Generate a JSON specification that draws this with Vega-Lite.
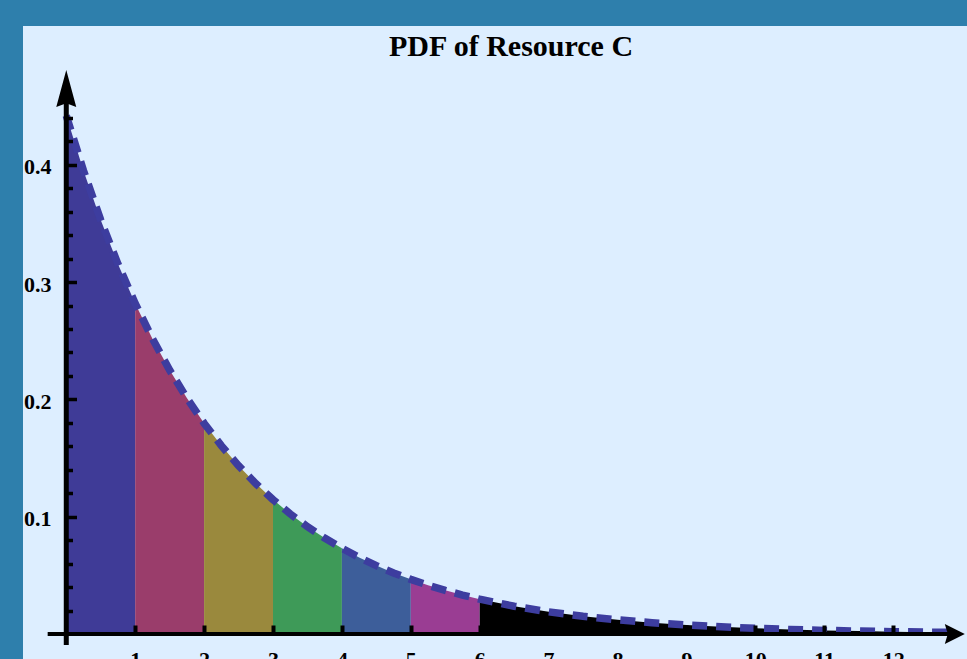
{
  "$schema": "https://vega.github.io/schema/vega-lite/v6.json",
  "autosize": {"type": "none"},
  "width": 944,
  "height": 633,
  "padding": {"left": 23, "top": 26, "right": 0, "bottom": 0},
  "background": "#2e7fac",
  "config": {"view": {"stroke": null, "fill": "#ddeeff"}},
  "title": {"text": "PDF of Resource C", "font": "Liberation Serif", "fontSize": 30, "fontWeight": "bold", "color": "black", "anchor": "middle", "offset": -60, "baseline": "alphabetic", "dx": 16, "frame": "group"},
  "datasets": {
    "pdf": [
      {"seg": "a", "x": 0, "y": 0.442}, {"seg": "a", "x": 0.25, "y": 0.395}, {"seg": "a", "x": 0.5, "y": 0.3529}, {"seg": "a", "x": 0.75, "y": 0.3154}, {"seg": "a", "x": 1, "y": 0.2818},
      {"seg": "b", "x": 1, "y": 0.2818}, {"seg": "b", "x": 1.25, "y": 0.2518}, {"seg": "b", "x": 1.5, "y": 0.225}, {"seg": "b", "x": 1.75, "y": 0.2011}, {"seg": "b", "x": 2, "y": 0.1797},
      {"seg": "c", "x": 2, "y": 0.1797}, {"seg": "c", "x": 2.25, "y": 0.1606}, {"seg": "c", "x": 2.5, "y": 0.1435}, {"seg": "c", "x": 2.75, "y": 0.1282}, {"seg": "c", "x": 3, "y": 0.1146},
      {"seg": "d", "x": 3, "y": 0.1146}, {"seg": "d", "x": 3.25, "y": 0.1024}, {"seg": "d", "x": 3.5, "y": 0.0915}, {"seg": "d", "x": 3.75, "y": 0.0818}, {"seg": "d", "x": 4, "y": 0.0731},
      {"seg": "e", "x": 4, "y": 0.0731}, {"seg": "e", "x": 4.25, "y": 0.0653}, {"seg": "e", "x": 4.5, "y": 0.0583}, {"seg": "e", "x": 4.75, "y": 0.0521}, {"seg": "e", "x": 5, "y": 0.0466},
      {"seg": "f", "x": 5, "y": 0.0466}, {"seg": "f", "x": 5.25, "y": 0.0416}, {"seg": "f", "x": 5.5, "y": 0.0372}, {"seg": "f", "x": 5.75, "y": 0.0332}, {"seg": "f", "x": 6, "y": 0.0297},
      {"seg": "g", "x": 6, "y": 0.0297}, {"seg": "g", "x": 6.5, "y": 0.0237}, {"seg": "g", "x": 7, "y": 0.0189}, {"seg": "g", "x": 7.5, "y": 0.0151}, {"seg": "g", "x": 8, "y": 0.0121}, {"seg": "g", "x": 8.5, "y": 0.0096}, {"seg": "g", "x": 9, "y": 0.0077}, {"seg": "g", "x": 9.5, "y": 0.0061}, {"seg": "g", "x": 10, "y": 0.0049}, {"seg": "g", "x": 10.5, "y": 0.0039}, {"seg": "g", "x": 11, "y": 0.0031}, {"seg": "g", "x": 11.5, "y": 0.0025}, {"seg": "g", "x": 12, "y": 0.002}, {"seg": "g", "x": 12.5, "y": 0.0016}, {"seg": "g", "x": 12.8, "y": 0.0014}
    ]
  },
  "encoding": {
    "x": {
      "field": "x", "type": "quantitative",
      "scale": {"domain": [-0.628, 13.072], "nice": false, "zero": false},
      "axis": {"orient": "bottom", "offset": -25, "values": [1, 2, 3, 4, 5, 6, 7, 8, 9, 10, 11, 12], "domain": false, "grid": false, "tickSize": -9, "tickWidth": 4, "tickColor": "black", "labelPadding": 24.5, "labelFont": "Liberation Serif", "labelFontWeight": "bold", "labelFontSize": 22, "labelColor": "black", "labelBaseline": "top", "labelFlush": false, "labelOverlap": false, "title": null, "zindex": 2}
    },
    "y": {
      "field": "y", "type": "quantitative", "stack": null,
      "scale": {"domain": [-0.0213, 0.5183], "nice": false, "zero": false},
      "axis": {"orient": "left", "offset": -43.5, "values": [0.02, 0.04, 0.06, 0.08, 0.1, 0.12, 0.14, 0.16, 0.18, 0.2, 0.22, 0.24, 0.26, 0.28, 0.3, 0.32, 0.34, 0.36, 0.38, 0.4, 0.42, 0.44], "format": ".1f", "labelExpr": "indexof([0.1, 0.2, 0.3, 0.4], datum.value) >= 0 ? datum.label : ''", "domain": false, "grid": false, "tickSize": {"condition": {"test": "indexof([0.1, 0.2, 0.3, 0.4], datum.value) >= 0", "value": -10}, "value": -6}, "tickWidth": 3.5, "tickColor": "black", "labelPadding": 25.5, "labelOffset": 2, "labelFont": "Liberation Serif", "labelFontWeight": "bold", "labelFontSize": 22, "labelColor": "black", "labelFlush": false, "labelOverlap": false, "title": null, "zindex": 2}
    }
  },
  "layer": [
    {
      "data": {"name": "pdf"},
      "mark": {"type": "area", "opacity": 1},
      "encoding": {
        "color": {"field": "seg", "type": "nominal", "legend": null, "scale": {"domain": ["a", "b", "c", "d", "e", "f", "g"], "range": ["#3f3b97", "#9a3d6b", "#9a893d", "#3e9a58", "#3d5e9a", "#9a3d93", "#000000"]}}
      }
    },
    {
      "data": {"name": "pdf"},
      "mark": {"type": "line", "color": "#3d3d9f", "strokeWidth": 7.5, "strokeDash": [15, 9], "strokeCap": "butt"},
      "encoding": {}
    },
    {
      "data": {"values": [{"x": 0, "y": -0.0094, "y2": 0.455}]},
      "mark": {"type": "rule", "color": "black", "strokeWidth": 5},
      "encoding": {"y2": {"field": "y2"}}
    },
    {
      "data": {"values": [{"x": -0.27, "x2": 12.9, "y": 0}]},
      "mark": {"type": "rule", "color": "black", "strokeWidth": 4},
      "encoding": {"x2": {"field": "x2"}}
    },
    {
      "data": {"values": [{"x": 0, "y": 0.4808}]},
      "mark": {"type": "point", "shape": "M0,0L0.54,2L0,1.8L-0.54,2Z", "size": 1369, "filled": true, "color": "black", "opacity": 1},
      "encoding": {}
    },
    {
      "data": {"values": [{"x": 13.04, "y": 0}]},
      "mark": {"type": "point", "shape": "M0,0L-2,-1L-1.7,0L-2,1Z", "size": 400, "filled": true, "color": "black", "opacity": 1},
      "encoding": {}
    }
  ]
}
